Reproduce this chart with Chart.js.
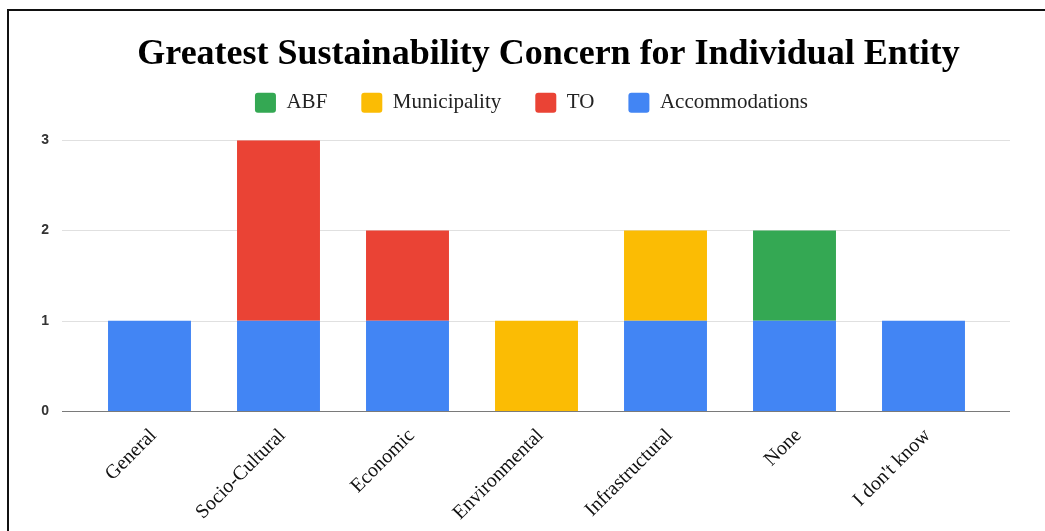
<!DOCTYPE html>
<html>
<head>
<meta charset="utf-8">
<script src="https://cdn.jsdelivr.net/npm/chart.js@4"></script>
<style>
  html, body { margin: 0; padding: 0; background: #fff; }
  body { width: 1045px; height: 531px; overflow: hidden; position: relative; }
  #frame {
    position: absolute; left: 7px; top: 9px; width: 1045px; height: 540px;
    border-left: 2px solid #111; border-top: 2px solid #111; box-sizing: border-box;
  }
  #wrap { position: absolute; left: 9px; top: 11px; width: 1036px; height: 520px; }
</style>
</head>
<body>
<div id="frame"></div>
<div id="wrap"><canvas id="c"></canvas></div>
<script>
// Concern categories along the x axis
const categories = ['General', 'Socio-Cultural', 'Economic', 'Environmental', 'Infrastructural', 'None', "I don't know"];

// Responses per entity type (stacked, Accommodations at the bottom)
const accommodations = [1, 1, 1, 0, 1, 1, 1];
const tourismOperators = [0, 2, 1, 0, 0, 0, 0];
const municipality = [0, 0, 0, 1, 1, 0, 0];
const abf = [0, 0, 0, 0, 0, 1, 0];

// Y axis tick values
const yTicks = [0, 1, 2, 3];

const serif = '"Liberation Serif", "Times New Roman", serif';
const sans = '"Liberation Sans", Arial, sans-serif';

// Horizontal gridlines that run a little past the category band on both sides
const wideGrid = {
  id: 'wideGrid',
  beforeDatasetsDraw(chart) {
    const { ctx, chartArea, scales } = chart;
    const y = scales.y;
    ctx.save();
    ctx.lineWidth = 1;
    yTicks.forEach(v => {
      const py = Math.round(y.getPixelForValue(v)) + 0.5;
      ctx.strokeStyle = v === 0 ? '#7a7a7a' : '#e0e0e0';
      ctx.beginPath();
      ctx.moveTo(chartArea.left - 23, py);
      ctx.lineTo(chartArea.right + 22, py);
      ctx.stroke();
    });
    ctx.restore();
  }
};

// Extra room under the legend row, and title/legend placed a little right of centre
const headerLayout = {
  id: 'headerLayout',
  beforeLayout(chart) {
    const l = chart.legend;
    if (l && !l._roomBelow) {
      const fit = l.fit;
      l.fit = function () { fit.call(this); this.height += 17; };
      l._roomBelow = true;
    }
  },
  afterLayout(chart) {
    const t = chart.titleBlock;
    if (t) { t.left += 50; t.right += 50; }
    const l = chart.legend;
    if (l) { l.left += 33; l.right += 33; }
  }
};

new Chart(document.getElementById('c'), {
  type: 'bar',
  data: {
    labels: categories,
    datasets: [
      { label: 'Accommodations', data: accommodations, backgroundColor: '#4285F4' },
      { label: 'TO', data: tourismOperators, backgroundColor: '#EA4335' },
      { label: 'Municipality', data: municipality, backgroundColor: '#FBBC04' },
      { label: 'ABF', data: abf, backgroundColor: '#34A853' }
    ]
  },
  options: {
    responsive: true,
    maintainAspectRatio: false,
    animation: false,
    layout: { padding: { left: 0, right: 57, top: 0, bottom: 0 } },
    datasets: { bar: { categoryPercentage: 1, barPercentage: 0.643 } },
    plugins: {
      title: {
        display: true,
        text: 'Greatest Sustainability Concern for Individual Entity',
        color: '#000',
        font: { family: serif, size: 36, weight: 'bold' },
        padding: { top: 22, bottom: -18 }
      },
      legend: {
        display: true,
        reverse: true,
        labels: {
          color: '#222',
          font: { family: serif, size: 21 },
          boxWidth: 21,
          boxHeight: 20,
          padding: 34,
          useBorderRadius: true,
          borderRadius: 3
        }
      },
      tooltip: { enabled: false }
    },
    scales: {
      x: {
        stacked: true,
        grid: { display: false, drawTicks: false },
        border: { display: false },
        ticks: {
          color: '#111',
          font: { family: serif, size: 20 },
          minRotation: 45,
          maxRotation: 45,
          padding: 13,
          labelOffset: 4
        },
        afterFit(scale) {
          scale.height = 120;
          scale.paddingLeft = 0;
          scale.paddingRight = 0;
        }
      },
      y: {
        stacked: true,
        min: 0,
        max: 3,
        grid: { display: false, drawTicks: false },
        border: { display: false },
        afterBuildTicks(scale) { scale.ticks = yTicks.map(v => ({ value: v })); },
        ticks: {
          color: '#333',
          font: { family: sans, size: 14, weight: 'bold' },
          padding: 36
        },
        afterFit(scale) { scale.width = 76; }
      }
    }
  },
  plugins: [wideGrid, headerLayout]
});
</script>
</body>
</html>
